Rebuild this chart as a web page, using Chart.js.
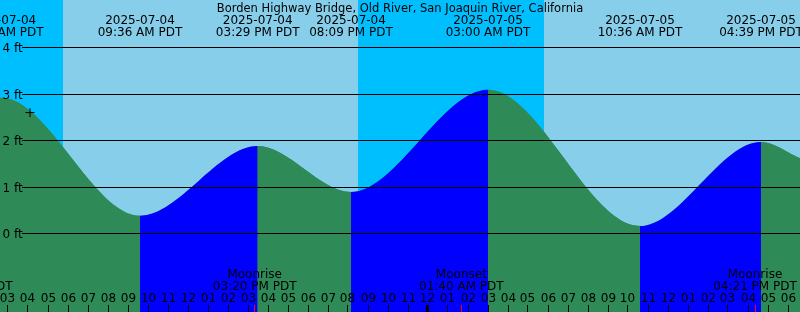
<!DOCTYPE html>
<html><head><meta charset="utf-8">
<script src="https://cdn.jsdelivr.net/npm/chart.js@4/dist/chart.umd.min.js"></script>
<style>html,body{margin:0;padding:0;background:#fff;overflow:hidden}#wrap{width:800px;height:312px;position:relative}canvas{display:block}</style>
</head><body><div id="wrap"><canvas id="c" width="800" height="312"></canvas></div>
<script>
// ---- data (hours counted from 2025-07-04 00:00 PDT) ----
const stationTitle = 'Borden Highway Bridge, Old River, San Joaquin River, California';
const extremeDates = ['2025-07-04','2025-07-04','2025-07-04','2025-07-04','2025-07-05','2025-07-05','2025-07-05'];
const extremeLabels = ['02:40 AM PDT','09:36 AM PDT','03:29 PM PDT','08:09 PM PDT','03:00 AM PDT','10:36 AM PDT','04:39 PM PDT'];
const extremeHours = [2.667, 9.6, 15.483, 20.15, 27.0, 34.6, 40.65];
const extremeFeet = [2.92, 0.38, 1.88, 0.89, 3.09, 0.16, 1.97];
// heights at the left and right chart edges
const edgeHours = [2.6, 42.6];
const edgeFeet = [2.92, 1.62];

const moonNames = ['Moonset','Moonrise','Moonset','Moonrise'];
const moonLabels = ['01:07 AM PDT','03:20 PM PDT','01:40 AM PDT','04:21 PM PDT'];
const moonHours = [1.117, 15.333, 25.667, 40.35];

const sunriseHours = [5.75, 29.8];
const sunsetHours = [20.5];

const hourLabels = ['03','04','05','06','07','08','09','10','11','12','01','02','03','04','05','06','07','08','09','10','11','12',
                    '01','02','03','04','05','06','07','08','09','10','11','12','01','02','03','04','05','06'];
const firstHour = 3;
const midnightHour = 24;

const footTicks = [0, 1, 2, 3, 4];
const footLabels = ['0 ft','1 ft','2 ft','3 ft','4 ft'];

const markerHour = 4.1;
const markerFeet = 2.6;

const X_MIN = 2.6, X_MAX = 42.6;
const Y_MIN = -1.688, Y_MAX = 5.0215;

// ---- colours ----
const NIGHT = '#00BFFF', DAY = '#87CEEB', FLOOD = '#0000FF', EBB = '#2E8B57';
const FONT = '12px "DejaVu Sans"';
const TITLE_FONT = '11.5px "DejaVu Sans"';

const tidePoints = extremeHours.map((h, i) => ({x: h, y: extremeFeet[i]}))
  .concat(edgeHours.map((h, i) => ({x: h, y: edgeFeet[i]})))
  .sort((a, b) => a.x - b.x);

const decor = {
  id: 'decor',
  beforeDatasetsDraw(chart) {
    const {ctx, chartArea: a, scales: {x}} = chart;
    ctx.save();
    ctx.fillStyle = DAY;
    ctx.fillRect(a.left, a.top, a.right - a.left, a.bottom - a.top);
    ctx.fillStyle = NIGHT;
    const x0 = a.left;
    const x1 = Math.round(x.getPixelForValue(sunriseHours[0]));
    ctx.fillRect(x0, a.top, x1 - x0, a.bottom - a.top);
    const xs = Math.round(x.getPixelForValue(sunsetHours[0]));
    const xr = Math.round(x.getPixelForValue(sunriseHours[1]));
    ctx.fillRect(xs, a.top, xr - xs, a.bottom - a.top);
    ctx.restore();
  },
  afterDatasetsDraw(chart) {
    const {ctx, chartArea: a, scales: {x, y}} = chart;
    ctx.save();
    ctx.strokeStyle = '#000';
    ctx.lineWidth = 1;
    ctx.fillStyle = '#000';
    ctx.font = FONT;
    ctx.textAlign = 'left';
    ctx.textBaseline = 'alphabetic';
    footTicks.forEach((v, i) => {
      const py = Math.floor(y.getPixelForValue(v)) + 0.5;
      ctx.beginPath(); ctx.moveTo(22, py); ctx.lineTo(a.right, py); ctx.stroke();
      ctx.fillText(footLabels[i], 2.5, py + 4);
    });
    ctx.textAlign = 'center';
    ctx.font = TITLE_FONT;
    ctx.fillText(stationTitle, 400, 12);
    ctx.font = FONT;
    extremeHours.forEach((h, i) => {
      const px = x.getPixelForValue(h);
      ctx.fillText(extremeDates[i], px, 24);
      ctx.fillText(extremeLabels[i], px, 36);
    });
    hourLabels.forEach((lab, i) => {
      const h = firstHour + i;
      const px = Math.floor(x.getPixelForValue(h));
      ctx.fillStyle = '#000';
      ctx.fillText(lab, px + 0.5, 301.5);
      if (h === midnightHour) ctx.fillRect(px - 1, 305, 3, 7);
      else ctx.fillRect(px, 305, 1, 7);
    });
    moonHours.forEach((h, i) => {
      const px = x.getPixelForValue(h);
      ctx.fillStyle = '#000';
      ctx.fillText(moonNames[i], px, 277.5);
      ctx.fillText(moonLabels[i], px, 289.5);
      ctx.fillStyle = '#FF0000';
      ctx.fillRect(Math.floor(px), 305, 1, 7);
    });
    ctx.restore();
  }
};

const tideStyle = {
  data: tidePoints,
  fill: 'start',
  borderWidth: 0,
  borderColor: 'rgba(0,0,0,0)',
  pointRadius: 0,
  cubicInterpolationMode: 'monotone'
};

new Chart(document.getElementById('c'), {
  type: 'line',
  data: {
    datasets: [
      Object.assign({}, tideStyle, {
        backgroundColor: EBB,
        segment: {backgroundColor: c => (c.p1.parsed.y > c.p0.parsed.y ? FLOOD : EBB)},
        order: 2
      }),
      Object.assign({}, tideStyle, {backgroundColor: EBB, order: 3}),
      {
        type: 'scatter',
        data: [{x: markerHour, y: markerFeet}],
        pointStyle: 'cross',
        pointRadius: 4.5,
        borderColor: '#000',
        borderWidth: 1,
        backgroundColor: '#000',
        order: 1
      }
    ]
  },
  options: {
    responsive: false,
    animation: false,
    events: [],
    layout: {padding: 0, autoPadding: false},
    plugins: {legend: {display: false}, tooltip: {enabled: false}},
    scales: {
      x: {type: 'linear', min: X_MIN, max: X_MAX, display: false},
      y: {type: 'linear', min: Y_MIN, max: Y_MAX, display: false}
    }
  },
  plugins: [decor]
});
</script></body></html>
